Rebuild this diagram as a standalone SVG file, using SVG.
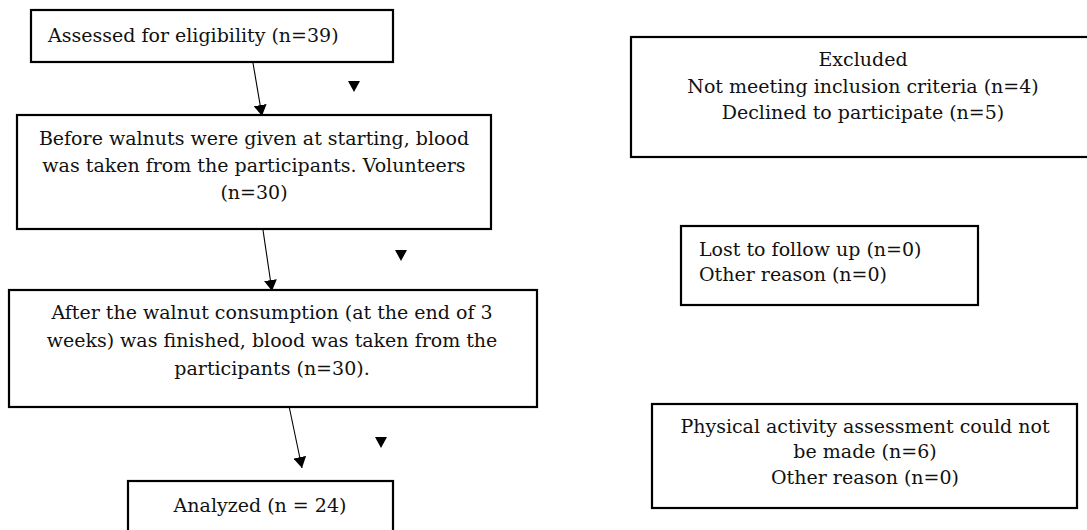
<svg xmlns="http://www.w3.org/2000/svg" width="1087" height="530" viewBox="0 0 1087 530">
<style>
.box{fill:#fff;stroke:#000;stroke-width:2.2}
.t{font-family:"DejaVu Serif","Liberation Serif",serif;font-size:19px;fill:#111}
.c{text-anchor:middle}
.edge{stroke:#000;stroke-width:1.1;fill:none;marker-end:url(#ah)}
.tri{fill:#000}
</style>
<defs>
<marker id="ah" viewBox="0 0 11 13" refX="11" refY="6.5" markerWidth="11" markerHeight="13" markerUnits="userSpaceOnUse" orient="auto">
<path d="M0,0 L11,6.5 L0,13 z" fill="#000"/>
</marker>
</defs>
<rect width="1087" height="530" fill="#fff"/>
<g id="n1">
<rect class="box" x="31" y="10" width="362" height="52"/>
<text class="t" x="48" y="42">Assessed for eligibility (n=39)</text>
</g>
<g id="n2">
<rect class="box" x="17" y="115" width="474" height="114"/>
<text class="t c" x="254" y="145">Before walnuts were given at starting, blood</text>
<text class="t c" x="254" y="172">was taken from the participants. Volunteers</text>
<text class="t c" x="254" y="199">(n=30)</text>
</g>
<g id="n3">
<rect class="box" x="9" y="290" width="528" height="117"/>
<text class="t c" x="272" y="319">After the walnut consumption (at the end of 3</text>
<text class="t c" x="272" y="347">weeks) was finished, blood was taken from the</text>
<text class="t c" x="272" y="375">participants (n=30).</text>
</g>
<g id="n4">
<rect class="box" x="128" y="481" width="265" height="60"/>
<text class="t c" x="260" y="512">Analyzed (n = 24)</text>
</g>
<g id="n5">
<rect class="box" x="631" y="37" width="470" height="120"/>
<text class="t c" x="863" y="66">Excluded</text>
<text class="t c" x="863" y="93">Not meeting inclusion criteria (n=4)</text>
<text class="t c" x="863" y="119">Declined to participate (n=5)</text>
</g>
<g id="n6">
<rect class="box" x="681" y="226" width="297" height="79"/>
<text class="t" x="699" y="256">Lost to follow up (n=0)</text>
<text class="t" x="699" y="281">Other reason (n=0)</text>
</g>
<g id="n7">
<rect class="box" x="652" y="404" width="425" height="104"/>
<text class="t c" x="865" y="433">Physical activity assessment could not</text>
<text class="t c" x="865" y="458">be made (n=6)</text>
<text class="t c" x="865" y="484">Other reason (n=0)</text>
</g>
<g id="connectors">
<line class="edge" x1="253" y1="63" x2="262" y2="116"/>
<line class="edge" x1="263" y1="230" x2="272" y2="291"/>
<line class="edge" x1="289" y1="406" x2="302" y2="468"/>
<polygon class="tri" points="348,81 360,81 354,92"/>
<polygon class="tri" points="395,250 407,250 401,261"/>
<polygon class="tri" points="375,437 387,437 381,448"/>
</g>
</svg>
